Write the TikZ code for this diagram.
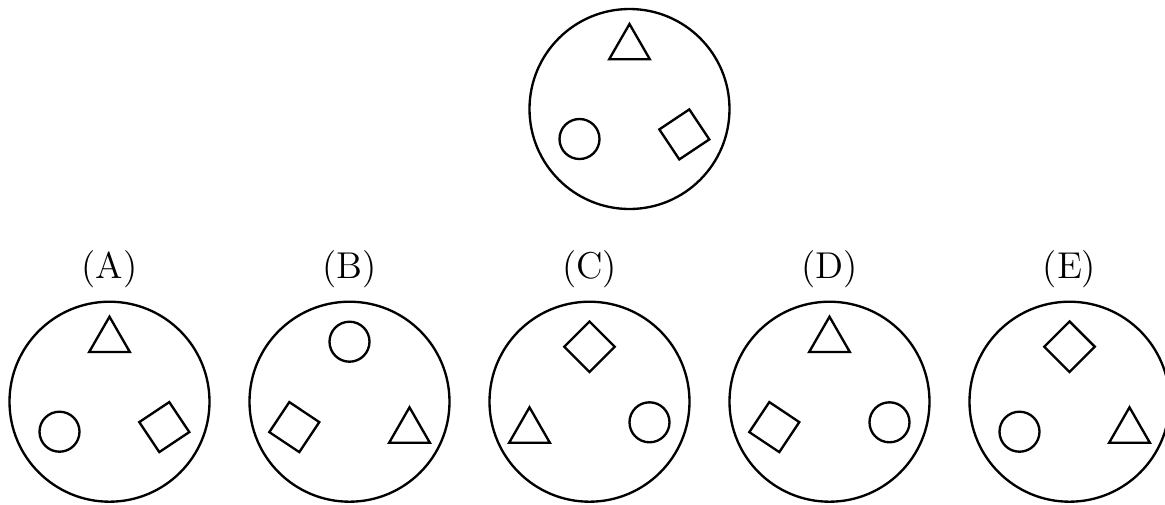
\documentclass[tikz,border=0pt]{standalone}
\newcommand\ShTriTop{\draw[fig] (-20.35,49.7) -- (20.35,49.7) -- (0,85) -- cycle;}
\newcommand\ShTriLL{\draw[fig] (-80.35,-41) -- (-39.65,-41) -- (-60,-5.6) -- cycle;}
\newcommand\ShTriLR{\draw[fig] (39.65,-41) -- (80.35,-41) -- (60,-5.6) -- cycle;}
\newcommand\ShCircTop{\draw[fig] (0,60) circle[radius=20];}
\newcommand\ShCircLL{\draw[fig] (-50,-30) circle[radius=20];}
\newcommand\ShCircLR{\draw[fig] (60,-20.6) circle[radius=20];}
\newcommand\ShDiaTop{\draw[fig,shift={(0,55)}] (0,25.3) -- (25.3,0) -- (0,-25.3) -- (-25.3,0) -- cycle;}
\newcommand\ShSqLL{\draw[fig,shift={(-55.2,-25.4)},rotate=11.3] (0,25.5) -- (25.5,0) -- (0,-25.5) -- (-25.5,0) -- cycle;}
\newcommand\ShSqLR{\draw[fig,shift={(54.8,-25.4)},rotate=-11.3] (0,25.5) -- (25.5,0) -- (0,-25.5) -- (-25.5,0) -- cycle;}
\begin{document}
\begin{tikzpicture}[x=0.3pt,y=0.3pt,
  fig/.style={line width=0.7pt},
  ring/.style={circle,draw,line width=0.7pt,minimum size=60pt,inner sep=0pt},
  tag/.style={inner sep=0pt,font=\fontsize{11.2}{13}\selectfont}]
\useasboundingbox (0,0) rectangle (1165,504);
% question figure
\node[ring] (Q) at (629.5,395) {};
\begin{scope}[shift={(Q.center)}] \ShTriTop \ShCircLL \ShSqLR \end{scope}
% options
\node[ring] (A) at (109.5,102.3) {};
\node[ring] (B) at (349.5,102.3) {};
\node[ring] (C) at (589.5,102.3) {};
\node[ring] (D) at (829.5,102.3) {};
\node[ring] (E) at (1069.5,102.3) {};
\node[tag] (lA) at (109.5,234.5) {(A)};
\node[tag] (lB) at (349.5,234.5) {(B)};
\node[tag] (lC) at (589.5,234.5) {(C)};
\node[tag] (lD) at (829.5,234.5) {(D)};
\node[tag] (lE) at (1069.5,234.5) {(E)};
\begin{scope}[shift={(A.center)}] \ShTriTop \ShCircLL \ShSqLR \end{scope}
\begin{scope}[shift={(B.center)}] \ShCircTop \ShSqLL \ShTriLR \end{scope}
\begin{scope}[shift={(C.center)}] \ShDiaTop \ShTriLL \ShCircLR \end{scope}
\begin{scope}[shift={(D.center)}] \ShTriTop \ShSqLL \ShCircLR \end{scope}
\begin{scope}[shift={(E.center)}] \ShDiaTop \ShCircLL \ShTriLR \end{scope}
\end{tikzpicture}
\end{document}
